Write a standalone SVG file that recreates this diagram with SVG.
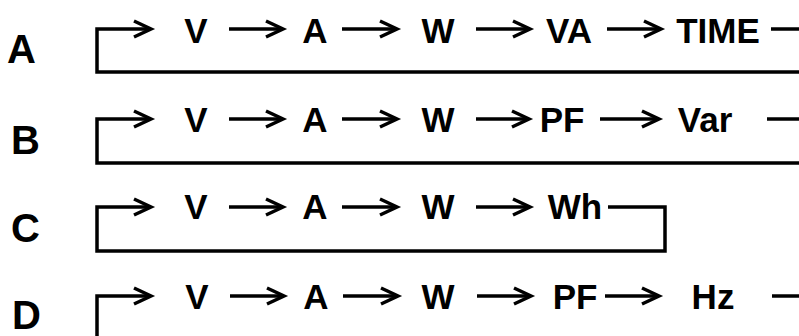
<svg xmlns="http://www.w3.org/2000/svg" width="799" height="336" viewBox="0 0 799 336">
<style>
.lbl{font-family:"Liberation Sans",Arial,sans-serif;font-weight:bold;font-size:40px;fill:#000}
.t{font-family:"Liberation Sans",Arial,sans-serif;font-weight:bold;font-size:35px;fill:#000;text-anchor:middle}
.ln{fill:none;stroke:#000;stroke-width:3.5}
.ar{fill:none;stroke:#000;stroke-width:3.5;marker-end:url(#ah)}
</style>
<defs>
<marker id="ah" markerUnits="userSpaceOnUse" markerWidth="24" markerHeight="20" refX="18" refY="8" orient="auto" overflow="visible">
<path d="M1,0 L18,8 L1,16" fill="none" stroke="#000" stroke-width="3.5"/>
</marker>
</defs>
<g id="rowA">
<text class="lbl" x="7" y="63">A</text>
<text class="t" x="196" y="43">V</text>
<text class="t" x="315" y="43">A</text>
<text class="t" x="438" y="43">W</text>
<text class="t" x="569" y="43">VA</text>
<text class="t" x="718" y="43">TIME</text>
</g>
<g id="rowB">
<text class="lbl" x="11" y="154">B</text>
<text class="t" x="196" y="132">V</text>
<text class="t" x="315" y="132">A</text>
<text class="t" x="438" y="132">W</text>
<text class="t" x="562" y="132">PF</text>
<text class="t" x="705" y="132">Var</text>
</g>
<g id="rowC">
<text class="lbl" x="11" y="242">C</text>
<text class="t" x="196" y="219">V</text>
<text class="t" x="315" y="219">A</text>
<text class="t" x="438" y="219">W</text>
<text class="t" x="575" y="219">Wh</text>
</g>
<g id="rowD">
<text class="lbl" x="12" y="329">D</text>
<text class="t" x="197" y="309">V</text>
<text class="t" x="316" y="309">A</text>
<text class="t" x="438" y="309">W</text>
<text class="t" x="575" y="309">PF</text>
<text class="t" x="713" y="309">Hz</text>
</g>
<g id="connectors">
<path class="ar" d="M802,72 H97 V29 H151"/>
<path class="ar" d="M229,29 H283"/>
<path class="ar" d="M342,29 H397"/>
<path class="ar" d="M476,29 H530"/>
<path class="ar" d="M607,29 H661"/>
<path class="ln" d="M771,29 H802"/>

<path class="ar" d="M802,163 H97 V119 H151"/>
<path class="ar" d="M229,119 H283"/>
<path class="ar" d="M342,119 H397"/>
<path class="ar" d="M476,119 H529"/>
<path class="ar" d="M600,119 H659"/>
<path class="ln" d="M767,119 H802"/>

<path class="ar" d="M608,207 H665 V251 H97 V207 H151"/>
<path class="ar" d="M229,207 H283"/>
<path class="ar" d="M342,207 H397"/>
<path class="ar" d="M476,207 H530"/>

<path class="ar" d="M97,340 V296 H151"/>
<path class="ar" d="M230,296 H284"/>
<path class="ar" d="M343,296 H398"/>
<path class="ar" d="M477,296 H531"/>
<path class="ar" d="M605,296 H659"/>
<path class="ln" d="M772,296 H802"/>
</g>
</svg>
